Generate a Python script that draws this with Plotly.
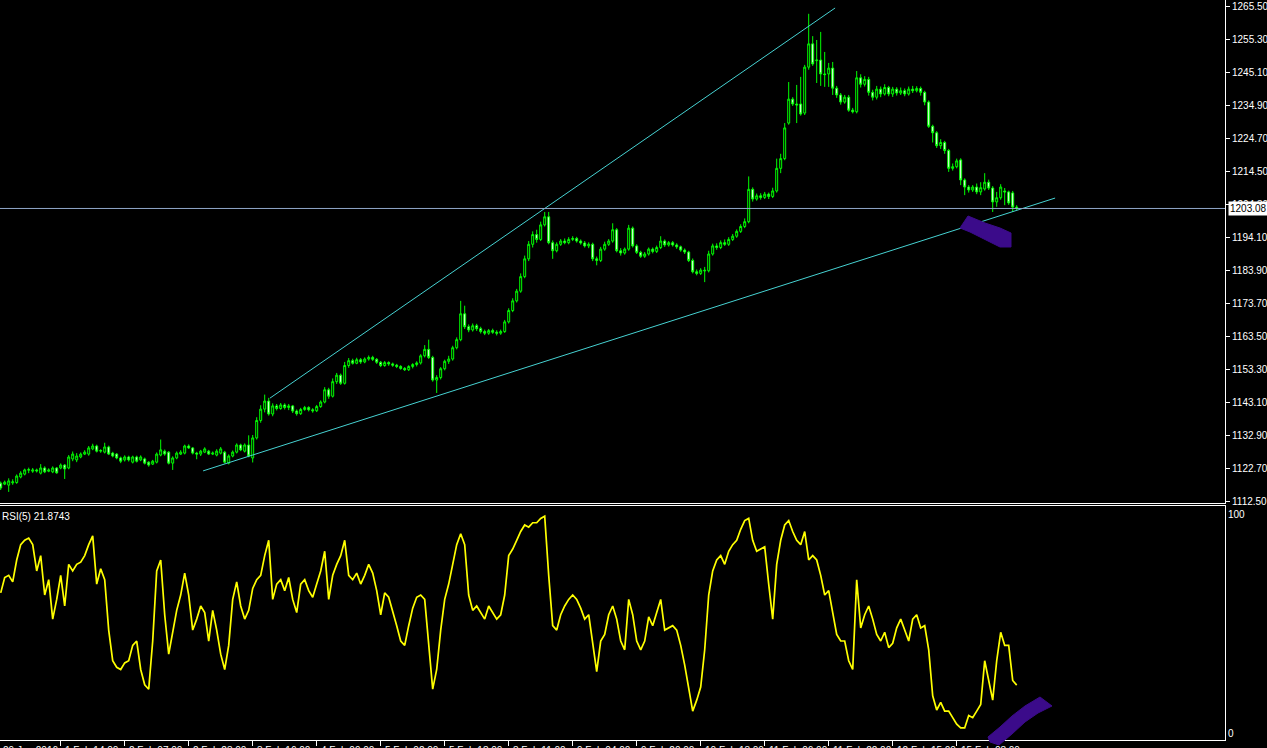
import plotly.graph_objects as go

W, H = 1267, 748

# ---------------- data (hourly gold) ----------------
open_ = [1118.1,1117.8,1117.5,1118.2,1118.3,1120.0,1120.9,1122.1,1121.8,1122.2,
 1121.2,1122.8,1121.8,1121.6,1122.8,1122.8,1123.7,1122.8,1125.6,1125.3,
 1126.2,1127.1,1127.1,1128.7,1129.6,1128.0,1127.7,1129.3,1127.4,1127.1,
 1125.9,1125.3,1126.2,1124.6,1126.2,1125.3,1125.6,1124.6,1124.0,1124.6,
 1126.8,1128.0,1127.7,1124.3,1125.9,1127.1,1127.4,1129.6,1129.0,1127.4,
 1127.1,1127.7,1128.0,1127.1,1126.8,1127.4,1127.7,1124.3,1126.5,1127.7,
 1129.9,1128.0,1129.9,1125.9,1132.1,1137.5,1141.0,1143.5,1139.5,1142.0,
 1141.2,1142.3,1141.5,1142.0,1140.4,1139.6,1140.9,1141.5,1140.8,1140.5,
 1141.8,1143.2,1147.0,1145.0,1149.5,1151.5,1149.0,1154.5,1156.0,1155.2,
 1156.3,1155.6,1156.5,1157.0,1156.4,1155.5,1154.5,1155.4,1155.0,1154.6,
 1154.2,1153.6,1153.2,1154.2,1154.8,1155.3,1157.5,1159.5,1157.0,1150.0,
 1150.8,1153.5,1155.8,1156.5,1160.0,1162.5,1170.5,1166.5,1165.5,1166.8,
 1165.9,1165.0,1164.5,1165.3,1164.8,1164.5,1165.0,1168.0,1171.5,1174.5,
 1177.5,1182.0,1187.5,1192.0,1195.0,1193.5,1198.0,1200.5,1192.5,1190.0,
 1192.0,1193.0,1192.5,1193.5,1193.8,1193.0,1192.4,1191.5,1192.0,1187.5,
 1187.0,1190.5,1192.0,1193.0,1196.5,1190.0,1189.3,1190.5,1197.0,1191.5,
 1189.5,1188.3,1189.0,1190.5,1189.8,1191.0,1193.0,1191.8,1192.5,1191.8,
 1191.2,1190.2,1189.6,1187.0,1183.5,1183.0,1184.0,1183.8,1189.0,1191.5,
 1191.0,1192.5,1192.0,1193.5,1194.5,1196.0,1197.5,1199.0,1209.0,1206.0,
 1207.0,1206.5,1207.5,1206.8,1208.5,1215.5,1218.5,1229.5,1236.9,1235.4,
 1235.4,1232.6,1246.8,1254.0,1248.8,1249.0,1244.7,1244.7,1246.5,1240.3,
 1238.2,1236.0,1237.5,1233.5,1233.0,1243.5,1241.5,1243.0,1239.0,1237.5,
 1240.0,1238.5,1240.5,1238.5,1240.0,1238.8,1239.5,1238.5,1240.0,1239.5,
 1240.2,1239.0,1236.0,1228.5,1226.5,1222.5,1223.5,1221.0,1215.5,1216.0,
 1218.1,1211.9,1209.7,1208.8,1209.7,1208.2,1209.1,1211.2,1209.4,1205.1,
 1206.4,1208.5,1208.2,1207.9,1203.5]
high = [1118.6,1118.9,1119.6,1119.3,1120.8,1121.8,1122.6,1122.9,1122.8,1122.6,
 1124.0,1123.3,1122.7,1123.3,1123.1,1124.2,1124.0,1126.8,1127.9,1127.4,
 1127.6,1128.3,1129.6,1130.3,1130.0,1128.6,1130.6,1129.7,1127.8,1127.4,
 1126.3,1126.7,1126.6,1126.6,1126.6,1126.7,1126.0,1124.9,1125.3,1127.6,
 1131.6,1128.5,1128.0,1126.4,1127.9,1128.3,1130.0,1130.1,1129.3,1127.8,
 1128.4,1129.2,1128.4,1127.9,1128.6,1129.3,1128.1,1127.0,1128.2,1130.4,
 1130.3,1130.4,1132.9,1133.0,1138.5,1142.2,1145.5,1144.5,1142.8,1142.6,
 1142.9,1142.8,1142.6,1142.3,1140.9,1141.4,1142.0,1141.9,1141.3,1142.3,
 1143.7,1147.8,1147.6,1150.5,1152.2,1152.0,1155.6,1156.8,1156.6,1156.9,
 1156.8,1157.0,1157.6,1157.5,1156.8,1155.9,1155.9,1155.8,1155.4,1155.0,
 1154.6,1154.0,1154.6,1155.2,1155.8,1158.0,1160.8,1162.5,1157.5,1151.5,
 1154.0,1156.3,1157.5,1160.6,1163.2,1174.5,1173.0,1167.2,1167.5,1167.4,
 1166.5,1165.6,1165.8,1165.9,1165.4,1165.6,1168.6,1172.2,1175.3,1178.2,
 1183.0,1188.5,1193.0,1196.0,1196.5,1199.0,1202.0,1202.0,1193.2,1192.6,
 1193.6,1193.8,1194.2,1194.5,1194.3,1193.5,1193.0,1192.6,1192.5,1188.2,
 1191.2,1192.8,1193.6,1198.5,1197.0,1190.8,1191.0,1198.0,1197.5,1192.0,
 1190.0,1189.6,1191.0,1191.0,1191.6,1194.5,1193.5,1193.0,1193.0,1192.3,
 1191.6,1190.7,1190.0,1187.6,1184.2,1184.6,1185.0,1190.0,1192.2,1192.3,
 1193.2,1193.5,1194.2,1195.2,1196.6,1198.2,1200.0,1213.0,1209.6,1207.7,
 1207.8,1208.2,1208.0,1209.5,1218.5,1220.0,1229.5,1242.2,1237.5,1241.3,
 1243.8,1247.5,1263.3,1256.4,1255.2,1257.7,1251.5,1248.1,1248.4,1241.0,
 1238.8,1238.2,1238.2,1234.2,1245.6,1244.6,1244.0,1243.8,1239.8,1241.0,
 1240.8,1241.5,1241.0,1240.7,1240.6,1240.5,1240.2,1240.8,1241.0,1240.9,
 1240.8,1239.5,1236.5,1229.0,1227.0,1224.5,1224.0,1221.5,1217.0,1218.5,
 1218.6,1212.4,1210.3,1210.3,1210.8,1211.2,1214.0,1212.0,1210.0,1208.2,
 1210.6,1209.4,1208.6,1208.5,1204.1]
low = [1116.0,1117.5,1115.4,1117.6,1117.9,1119.6,1120.5,1121.2,1121.3,1121.4,
 1120.8,1121.2,1121.5,1121.2,1121.0,1122.4,1119.4,1122.4,1124.9,1124.6,
 1125.8,1126.8,1126.6,1128.3,1127.6,1127.5,1127.3,1126.8,1126.1,1125.5,
 1124.3,1124.8,1124.8,1124.2,1124.5,1124.9,1123.9,1123.2,1123.7,1124.2,
 1126.4,1126.6,1123.9,1122.2,1125.5,1126.8,1127.0,1128.7,1127.0,1125.5,
 1126.5,1127.4,1126.8,1126.8,1126.4,1127.0,1124.2,1123.9,1126.1,1127.3,
 1128.0,1127.6,1126.1,1124.5,1131.6,1136.8,1140.0,1139.0,1138.8,1140.6,
 1140.8,1140.9,1140.7,1139.8,1139.0,1139.2,1140.5,1140.3,1139.9,1140.1,
 1141.4,1142.8,1144.2,1144.6,1148.8,1148.5,1148.6,1153.8,1154.8,1154.9,
 1155.0,1155.2,1156.0,1155.9,1155.0,1154.0,1154.1,1154.4,1154.1,1153.7,
 1153.2,1152.8,1152.8,1153.6,1154.2,1154.8,1157.0,1156.5,1149.5,1146.0,
 1150.2,1153.0,1155.0,1156.0,1159.5,1162.0,1165.8,1164.8,1165.0,1165.2,
 1164.4,1163.9,1164.0,1164.3,1163.8,1164.0,1164.6,1167.5,1171.0,1174.0,
 1177.0,1181.5,1186.8,1191.0,1192.5,1193.0,1197.5,1192.0,1187.5,1189.5,
 1191.5,1192.0,1192.0,1193.0,1192.5,1191.9,1191.0,1190.8,1186.8,1185.5,
 1186.5,1190.0,1191.5,1192.5,1189.5,1188.5,1188.8,1190.0,1191.0,1189.0,
 1187.8,1187.8,1188.5,1189.2,1189.3,1190.5,1191.2,1191.3,1191.3,1190.6,
 1189.7,1189.0,1186.5,1183.0,1182.4,1182.5,1180.3,1183.3,1188.5,1190.3,
 1190.5,1191.5,1191.5,1193.0,1194.0,1195.5,1197.0,1198.5,1205.2,1205.5,
 1205.8,1206.0,1206.0,1206.3,1208.0,1214.0,1218.0,1229.0,1234.8,1229.5,
 1231.8,1232.0,1246.0,1247.2,1241.9,1241.0,1240.7,1240.7,1238.2,1237.3,
 1235.2,1235.5,1233.0,1232.5,1232.5,1240.5,1240.8,1238.0,1236.5,1236.8,
 1237.5,1238.0,1237.8,1237.6,1238.0,1238.2,1237.8,1238.0,1238.8,1239.0,
 1238.0,1235.0,1228.0,1223.5,1221.8,1221.5,1220.0,1214.4,1214.8,1215.5,
 1210.3,1207.2,1208.0,1208.2,1207.5,1207.2,1208.6,1208.8,1202.0,1203.6,
 1205.8,1204.1,1204.2,1202.0,1202.6]
close = [1116.6,1118.4,1118.8,1118.5,1120.3,1121.2,1122.2,1122.3,1122.2,1121.9,
 1122.8,1121.6,1122.2,1122.8,1121.3,1123.7,1122.5,1126.2,1127.1,1126.5,
 1127.1,1127.7,1129.0,1129.6,1128.0,1128.2,1129.3,1127.1,1126.5,1125.9,
 1124.9,1126.2,1125.3,1126.2,1124.9,1126.2,1124.3,1123.7,1124.9,1127.1,
 1128.4,1127.1,1124.3,1125.9,1127.4,1127.7,1129.6,1129.0,1127.4,1127.1,
 1128.0,1128.7,1127.1,1127.4,1128.0,1128.7,1124.6,1126.5,1127.7,1129.9,
 1128.4,1129.9,1126.5,1132.1,1137.5,1141.0,1143.5,1139.5,1142.0,1141.2,
 1142.3,1141.5,1142.0,1140.4,1139.6,1140.9,1141.5,1140.8,1140.5,1141.8,
 1143.2,1147.0,1145.0,1149.5,1151.5,1149.0,1154.5,1156.0,1155.2,1156.3,
 1155.6,1156.5,1157.0,1156.4,1155.5,1154.5,1155.4,1155.0,1154.6,1154.2,
 1153.6,1153.2,1154.2,1154.8,1155.3,1157.5,1159.5,1157.0,1150.0,1150.8,
 1153.5,1155.8,1156.5,1160.0,1162.5,1170.5,1166.5,1165.5,1166.8,1165.9,
 1165.0,1164.5,1165.3,1164.8,1164.5,1165.0,1168.0,1171.5,1174.5,1177.5,
 1182.0,1187.5,1192.0,1195.0,1193.5,1198.0,1200.5,1192.5,1190.0,1192.0,
 1193.0,1192.5,1193.5,1193.8,1193.0,1192.4,1191.5,1192.0,1187.5,1187.0,
 1190.5,1192.0,1193.0,1196.5,1190.0,1189.3,1190.5,1197.0,1191.5,1189.5,
 1188.3,1189.0,1190.5,1189.8,1191.0,1193.0,1191.8,1192.5,1191.8,1191.2,
 1190.2,1189.6,1187.0,1183.5,1183.0,1184.0,1183.8,1189.0,1191.5,1191.0,
 1192.5,1192.0,1193.5,1194.5,1196.0,1197.5,1199.0,1209.0,1206.0,1207.0,
 1206.5,1207.5,1206.8,1208.5,1215.5,1218.5,1228.0,1236.9,1235.4,1235.1,
 1232.3,1246.8,1254.0,1247.8,1249.0,1244.7,1244.5,1246.5,1240.3,1238.2,
 1236.0,1237.5,1233.5,1233.0,1243.5,1241.5,1243.0,1239.0,1237.5,1240.0,
 1238.5,1240.5,1238.5,1240.0,1238.8,1239.5,1238.5,1240.0,1239.5,1240.2,
 1239.0,1236.0,1228.5,1226.5,1222.5,1223.5,1221.0,1215.5,1216.0,1217.8,
 1211.9,1209.7,1208.8,1209.7,1208.2,1209.5,1211.2,1209.4,1205.1,1206.4,
 1209.7,1208.2,1204.8,1203.5,1203.08]
rsi = [64,71,72,69,79,86,88,89,86,74,
 81,63,70,52,61,72,58,77,74,77,
 78,81,86,90,68,75,70,47,33,30,
 29,32,33,40,42,29,22,20,42,74,
 79,54,36,47,56,63,73,63,47,52,
 58,55,42,56,47,36,29,40,61,69,
 58,52,56,66,70,72,81,88,61,68,
 70,65,71,61,55,68,70,65,62,68,
 74,83,61,72,77,81,88,72,70,73,
 68,72,77,73,65,54,64,62,56,49,
 42,40,49,57,62,63,61,42,20,29,
 47,61,68,77,86,91,86,63,56,58,
 55,52,58,55,52,54,63,81,84,88,
 92,95,94,96,96,98,99,72,49,47,
 54,58,61,63,61,57,52,54,40,28,
 42,45,54,58,52,42,38,61,54,42,
 38,42,53,49,55,61,47,48,49,47,
 40,31,21,10,15,21,38,63,74,79,
 81,77,83,86,88,93,97,98,88,83,
 84,85,68,52,77,88,95,97,92,88,
 86,92,79,81,79,72,63,65,55,45,
 42,42,33,29,70,48,54,58,52,45,
 42,46,39,41,48,52,47,42,52,54,
 48,49,38,17,10.5,14,10,10,7,4,
 2.3,2.3,8,7,10,13,33,24,15,33,
 46,40,40,24,21.8743]
bars = list(range(len(close)))

price_ticks = [1112.50,1122.70,1132.90,1143.10,1153.30,1163.50,1173.70,1183.90,
               1194.10,1204.30,1214.50,1224.70,1234.90,1245.10,1255.30,1265.50]
rsi_ticks = [0, 100]
time_tick_bars = [15,31,47,63,79,95,111,127,143,159,175,191,207,223,239]
time_tick_text = ["1 Feb 14:00","2 Feb 07:00","2 Feb 23:00","3 Feb 16:00","4 Feb 09:00",
                  "5 Feb 02:00","5 Feb 18:00","8 Feb 11:00","9 Feb 04:00","9 Feb 20:00",
                  "10 Feb 13:00","11 Feb 06:00","11 Feb 22:00","12 Feb 15:00","15 Feb 08:00"]
first_label = "29 Jan 2016"
bid_price = 1203.08
rsi_label = "RSI(5) 21.8743"

# trendlines (bar index, price)
upper_line_x = [67.3, 208.6]
upper_line_y = [1144.4, 1265.1]
lower_line_x = [50.6, 263.6]
lower_line_y = [1121.9, 1206.3]

# ---------------- layout helpers ----------------
X_RIGHT = 1225  # px, right edge of plotting area
def px(x): return x / W
def py(y): return 1 - y / H

FONT = "Liberation Sans, Arial, sans-serif"
GREEN = "#00FF00"
TREND = "#46D2D2"

fig = go.Figure()
fig.add_trace(go.Candlestick(
    x=bars, open=open_, high=high, low=low, close=close,
    increasing=dict(line=dict(color=GREEN, width=1), fillcolor="#000000"),
    decreasing=dict(line=dict(color=GREEN, width=1), fillcolor="#FFFFFF"),
    whiskerwidth=0, xaxis="x", yaxis="y", showlegend=False, hoverinfo="skip"))
fig.add_trace(go.Scatter(x=upper_line_x, y=upper_line_y, mode="lines",
    line=dict(color=TREND, width=1), xaxis="x", yaxis="y", showlegend=False, hoverinfo="skip"))
fig.add_trace(go.Scatter(x=lower_line_x, y=lower_line_y, mode="lines",
    line=dict(color=TREND, width=1), xaxis="x", yaxis="y", showlegend=False, hoverinfo="skip"))
fig.add_trace(go.Scatter(x=bars, y=rsi, mode="lines",
    line=dict(color="#FFFF00", width=1.7), xaxis="x2", yaxis="y2", showlegend=False, hoverinfo="skip"))

xr = [-0.175, (X_RIGHT - 0.7) / 4]
main_bottom, rsi_top, rsi_bottom = 503, 506, 740
p_per_px = 1 / 3.2325
y_top_price = 1265.5 + 6.7 * p_per_px
y_bot_price = y_top_price - main_bottom * p_per_px
r_px = 2.19
rsi_hi = 100 + (514 - rsi_top) / r_px
rsi_lo = -(rsi_bottom - 733) / r_px

fig.update_layout(
    width=W, height=H, margin=dict(l=0, r=0, t=0, b=0, pad=0, autoexpand=False),
    paper_bgcolor="#000000", plot_bgcolor="#000000",
    font=dict(family=FONT, size=10, color="#FFFFFF"),
    showlegend=False,
    xaxis=dict(domain=[0, px(X_RIGHT)], range=xr, anchor="y", automargin=False,
               showgrid=False, zeroline=False, showticklabels=False, ticks="",
               showline=True, linecolor="#FFFFFF", linewidth=1,
               rangeslider=dict(visible=False), fixedrange=True),
    yaxis=dict(domain=[py(main_bottom), 1], range=[y_bot_price, y_top_price],
               side="right", anchor="x", showgrid=False, zeroline=False, automargin=False,
               showline=True, linecolor="#FFFFFF", linewidth=1,
               ticks="outside", ticklen=4, tickcolor="#FFFFFF",
               tickvals=price_ticks, ticktext=[f"{v:.2f}" for v in price_ticks],
               tickfont=dict(family=FONT, size=10, color="#FFFFFF")),
    xaxis2=dict(domain=[0, px(X_RIGHT)], range=xr, anchor="y2", automargin=False,
                showgrid=False, zeroline=False, showticklabels=False,
                showline=True, linecolor="#FFFFFF", linewidth=1, mirror=True,
                ticks="outside", ticklen=5, tickcolor="#FFFFFF",
                tickvals=time_tick_bars),
    yaxis2=dict(domain=[py(rsi_bottom), py(rsi_top)], range=[rsi_lo, rsi_hi],
                side="right", anchor="x2", showgrid=False, zeroline=False, automargin=False,
                showline=True, linecolor="#FFFFFF", linewidth=1,
                ticks="", tickvals=rsi_ticks, ticktext=[str(v) for v in rsi_ticks],
                tickfont=dict(family=FONT, size=10, color="#FFFFFF")),
)

shapes = [dict(type="line", xref="paper", yref="y", x0=0, x1=px(X_RIGHT),
               y0=bid_price, y1=bid_price, line=dict(color="#8FA6C8", width=1))]

def poly(pts):
    s = "M " + " L ".join(f"{px(x):.5f},{py(y):.5f}" for x, y in pts) + " Z"
    return s

purple1 = [(960,228),(968,216),(985,223),(1000,228),(1011,233),(1011,247),
           (1000,247),(990,242),(980,237),(970,232)]
purple2 = [(988,737),(1000,727),(1012,716),(1025,706),(1040,697),(1052,706),
           (1038,713),(1025,722),(1012,734),(999,745),(990,742)]
for pts in (purple1, purple2):
    shapes.append(dict(type="path", xref="paper", yref="paper", path=poly(pts),
                       fillcolor="#3B0B8A", line=dict(color="#3B0B8A", width=1)))
fig.update_layout(shapes=shapes)

ann = [
    dict(text=rsi_label, xref="paper", yref="paper", x=0, y=py(516),
         xanchor="left", yanchor="middle", showarrow=False,
         font=dict(family=FONT, size=10, color="#FFFFFF")),
    dict(text=f"{bid_price:.2f}", xref="paper", yref="y", x=px(1228), y=bid_price,
         xanchor="left", yanchor="middle", showarrow=False, bgcolor="#FFFFFF",
         borderpad=1, font=dict(family=FONT, size=10, color="#000000")),
    dict(text=first_label, xref="x2", yref="paper", x=0, y=py(743),
         xanchor="left", yanchor="top", showarrow=False,
         font=dict(family=FONT, size=10, color="#FFFFFF")),
]
for b, t in zip(time_tick_bars, time_tick_text):
    ann.append(dict(text=t, xref="x2", yref="paper", x=b + 0.5, y=py(743),
                    xanchor="left", yanchor="top", showarrow=False,
                    font=dict(family=FONT, size=10, color="#FFFFFF")))
fig.update_layout(annotations=ann)

fig.write_html("out.html", config={"displayModeBar": False},
               post_script="document.body.style.margin='0';document.body.style.overflow='hidden';")
